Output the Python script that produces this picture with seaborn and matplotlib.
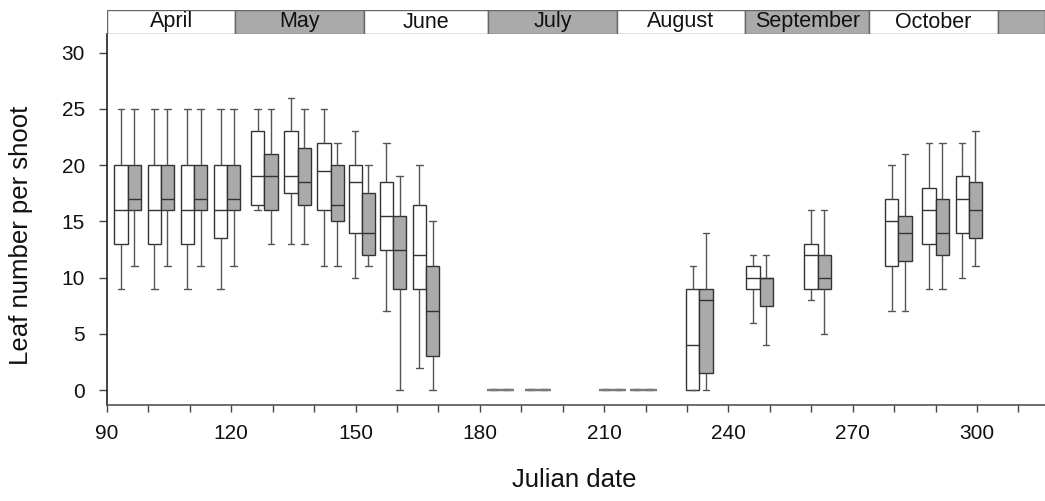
import numpy as np
import pandas as pd
import matplotlib
matplotlib.use("Agg")
import matplotlib.pyplot as plt
import seaborn as sns
from matplotlib.ticker import MultipleLocator

# ---- data ----
days = [95, 103, 111, 119, 128, 136, 144, 151.5, 159, 167,
        233, 247.5, 261.5, 281, 290, 298]
zero_days = [185, 194, 212, 219.5]

white_low  = [9, 9, 9, 9, 16, 13, 11, 10, 7, 2, 0, 6, 8, 7, 9, 10]
white_q1   = [13, 13, 13, 13.5, 16.5, 17.5, 16, 14, 12.5, 9, 0, 9, 9, 11, 13, 14]
white_med  = [16, 16, 16, 16, 19, 19, 19.5, 18.5, 15.5, 12, 4, 10, 12, 15, 16, 17]
white_q3   = [20, 20, 20, 20, 23, 23, 22, 20, 18.5, 16.5, 9, 11, 13, 17, 18, 19]
white_high = [25, 25, 25, 25, 25, 26, 25, 23, 22, 20, 11, 12, 16, 20, 22, 22]

gray_low  = [11, 11, 11, 11, 13, 13, 11, 11, 0, 0, 0, 4, 5, 7, 9, 11]
gray_q1   = [16, 16, 16, 16, 16, 16.5, 15, 12, 9, 3, 1.5, 7.5, 9, 11.5, 12, 13.5]
gray_med  = [17, 17, 17, 17, 19, 18.5, 16.5, 14, 12.5, 7, 8, 10, 10, 14, 14, 16]
gray_q3   = [20, 20, 20, 20, 21, 21.5, 20, 17.5, 15.5, 11, 9, 10, 12, 15.5, 17, 18.5]
gray_high = [25, 25, 25, 25, 25, 25, 22, 20, 19, 15, 14, 12, 16, 21, 22, 23]

months = ["April", "May", "June", "July", "August", "September", "October", ""]
month_starts = [91, 121, 152, 182, 213, 244, 274, 305]

x_ticks = [90, 120, 150, 180, 210, 240, 270, 300]
y_ticks = [0, 5, 10, 15, 20, 25, 30]

# ---- style ----
sns.set_theme(style="ticks")
plt.rcParams["font.family"] = ["Liberation Sans", "DejaVu Sans"]
plt.rcParams["text.color"] = "#111111"
plt.rcParams["axes.labelcolor"] = "#111111"
plt.rcParams["xtick.labelcolor"] = "#111111"
plt.rcParams["ytick.labelcolor"] = "#111111"

XMIN, XMAX = 90, 316.4
YMIN, YMAX = -1.33, 31.67
OFF = 1.6
GRAY = "#aaaaaa"

rows = []
for i, d in enumerate(days):
    for v in (white_low[i], white_q1[i], white_med[i], white_q3[i], white_high[i]):
        rows.append({"pos": d - OFF, "val": v, "grp": "white"})
    for v in (gray_low[i], gray_q1[i], gray_med[i], gray_q3[i], gray_high[i]):
        rows.append({"pos": d + OFF, "val": v, "grp": "gray"})
df = pd.DataFrame(rows)

rows0 = []
for d in zero_days:
    for _ in range(5):
        rows0.append({"pos": d - OFF, "val": 0.0, "grp": "white"})
        rows0.append({"pos": d + OFF, "val": 0.0, "grp": "gray"})
df0 = pd.DataFrame(rows0)

fig = plt.figure(figsize=(10.45, 5.01), dpi=100)
W, H = 1045, 501
ax = fig.add_axes([107 / W, 1 - 405 / H, (W - 107) / W, (405 - 34) / H])
band = fig.add_axes([107 / W, 1 - 34 / H, (W - 107) / W, 24 / H])

pal = {"white": "white", "gray": GRAY}
common = dict(x="pos", y="val", hue="grp", hue_order=["white", "gray"],
              palette=pal, native_scale=True, dodge=False, width=1.0,
              whis=(0, 100), saturation=1, legend=False, ax=ax)

sns.boxplot(data=df, linecolor="#333333", linewidth=1.0,
            whiskerprops={"color": "#555555"}, capprops={"color": "#555555"},
            **common)
sns.boxplot(data=df0, linecolor="#7a7a7a", linewidth=1.6, **common)

ax.set_xlim(XMIN, XMAX)
ax.set_ylim(YMIN, YMAX)
ax.set_xticks(x_ticks)
ax.xaxis.set_minor_locator(MultipleLocator(10))
ax.set_yticks(y_ticks)
ax.tick_params(axis="x", which="both", length=5, width=1, color="#444444",
               labelsize=15, pad=9, direction="out")
ax.tick_params(axis="y", which="both", length=6, width=1, color="#444444",
               labelsize=15, pad=10, direction="out")
for s in ("top", "right"):
    ax.spines[s].set_visible(False)
ax.spines["left"].set_color("#222222")
ax.spines["bottom"].set_color("#555555")
ax.spines["left"].set_linewidth(1.2)
ax.spines["bottom"].set_linewidth(1.2)

ax.set_xlabel("Julian date", fontsize=18.5)
ax.set_ylabel("Leaf number per shoot", fontsize=18.5)
ax.xaxis.set_label_coords(0.498, -0.17)
ax.yaxis.set_label_coords(-0.079, 0.458)

# ---- month band ----
band.set_xlim(XMIN, XMAX)
band.set_ylim(0, 1)
ends = month_starts[1:] + [XMAX]
for k, (name, s, e) in enumerate(zip(months, month_starts, ends)):
    s0 = XMIN if k == 0 else s
    band.bar(s0, 1, width=e - s0, bottom=0, align="edge",
             color="white" if k % 2 == 0 else GRAY,
             edgecolor="#666666", linewidth=1.0)
    if name:
        band.text((s0 + e) / 2, 0.5, name, ha="center", va="center",
                  fontsize=15.5, color="#111111")
band.axis("off")

fig.savefig("out.png", dpi=100)
